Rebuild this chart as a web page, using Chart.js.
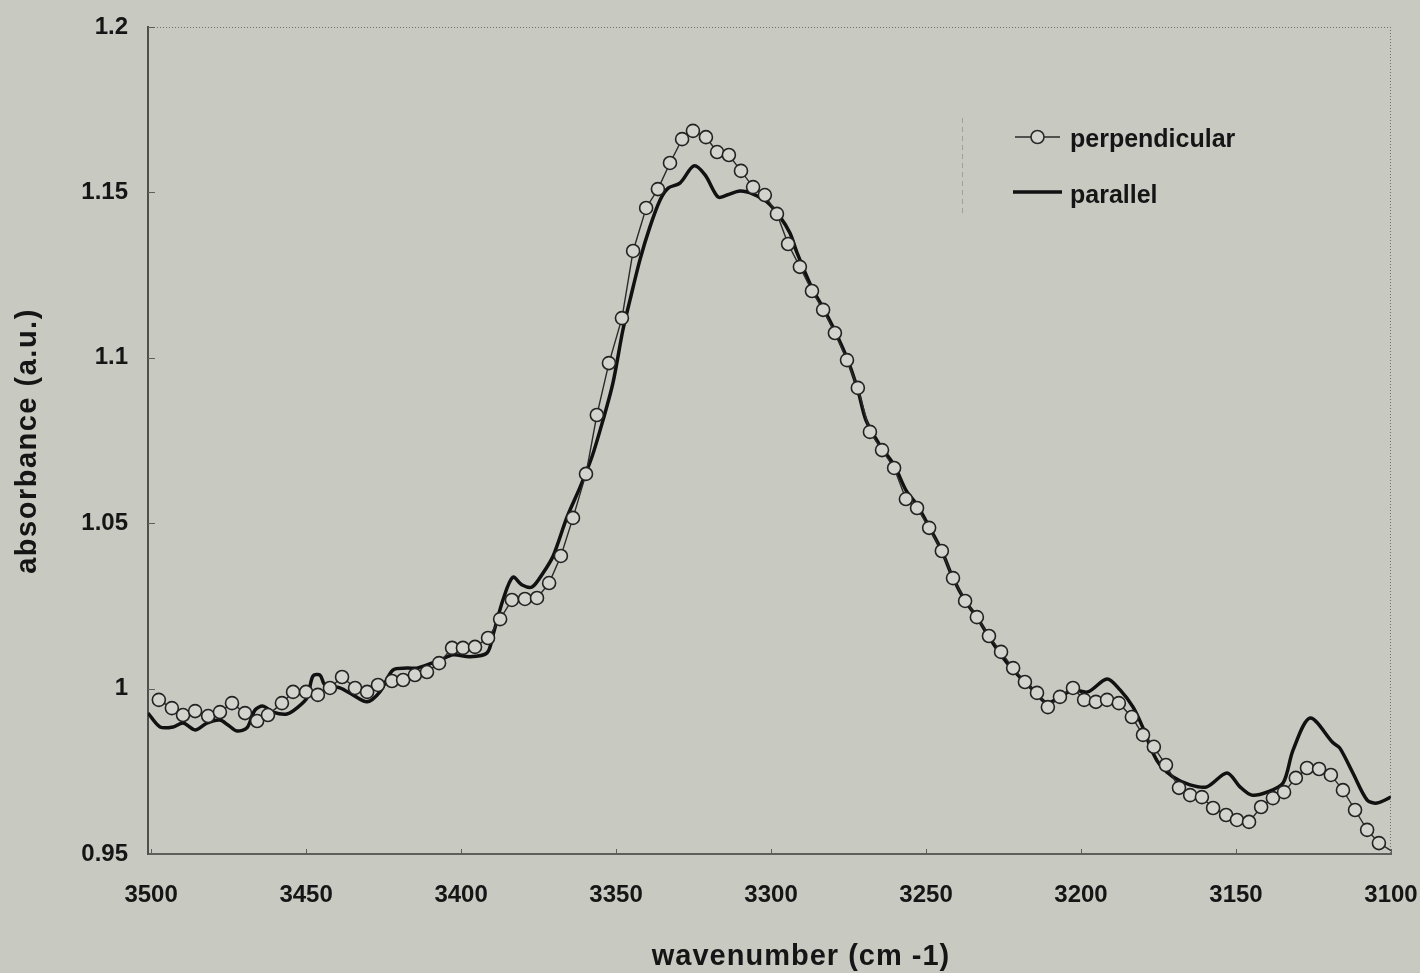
<!DOCTYPE html>
<html>
<head>
<meta charset="utf-8">
<title>absorbance vs wavenumber</title>
<script src="https://cdn.jsdelivr.net/npm/chart.js@4.4.0/dist/chart.umd.min.js"></script>
<style>
  html, body { margin: 0; padding: 0; background: #c8c9c1; }
  canvas { display: block; }
</style>
</head>
<body>
<canvas id="chart-ir" width="1420" height="973"></canvas>
<script>
var xTicks = [3500, 3450, 3400, 3350, 3300, 3250, 3200, 3150, 3100];
var yTicks = [0.95, 1, 1.05, 1.1, 1.15, 1.2];
var yTickLabels = ["0.95", "1", "1.05", "1.1", "1.15", "1.2"];
var seriesNames = ["perpendicular", "parallel"];
var xTitle = "wavenumber (cm -1)";
var yTitle = "absorbance (a.u.)";

// perpendicular (open circles)
var perpWn = [
  3497.5, 3493.3, 3489.7, 3485.8, 3481.6, 3477.8, 3473.9, 3469.7, 3465.8, 3462.3,
  3457.8, 3454.2, 3450.0, 3446.2, 3442.3, 3438.4, 3434.2, 3430.3, 3426.8, 3422.3,
  3418.7, 3414.9, 3411.0, 3407.1, 3402.9, 3399.4, 3395.5, 3391.3, 3387.4, 3383.6,
  3379.4, 3375.5, 3371.6, 3367.8, 3363.9, 3359.7, 3356.2, 3352.3, 3348.1, 3344.5,
  3340.3, 3336.5, 3332.6, 3328.7, 3325.2, 3321.0, 3317.4, 3313.6, 3309.7, 3305.8,
  3302.0, 3298.1, 3294.5, 3290.7, 3286.8, 3283.2, 3279.4, 3275.5, 3272.0, 3268.1,
  3264.2, 3260.3, 3256.5, 3252.9, 3249.0, 3244.9, 3241.3, 3237.4, 3233.6, 3229.7,
  3225.8, 3221.9, 3218.1, 3214.2, 3210.7, 3206.8, 3202.6, 3199.0, 3195.2, 3191.6,
  3187.8, 3183.6, 3180.0, 3176.5, 3172.6, 3168.4, 3164.8, 3161.0, 3157.4, 3153.2,
  3149.7, 3145.8, 3141.9, 3138.1, 3134.5, 3130.7, 3127.1, 3123.2, 3119.4, 3115.5,
  3111.6, 3107.7, 3103.9, 3100.0
];
var perpAbs = [
  0.9966, 0.9941, 0.9920, 0.9932, 0.9917, 0.9929, 0.9956, 0.9926, 0.9902, 0.9920,
  0.9956, 0.9990, 0.9990, 0.9981, 1.0002, 1.0035, 1.0002, 0.9990, 1.0011, 1.0023,
  1.0026, 1.0041, 1.0050, 1.0077, 1.0123, 1.0123, 1.0126, 1.0153, 1.0210, 1.0268,
  1.0271, 1.0274, 1.0319, 1.0401, 1.0516, 1.0649, 1.0827, 1.0984, 1.1120, 1.1323,
  1.1453, 1.1510, 1.1589, 1.1661, 1.1686, 1.1667, 1.1622, 1.1613, 1.1565, 1.1516,
  1.1492, 1.1435, 1.1344, 1.1275, 1.1202, 1.1145, 1.1075, 1.0993, 1.0909, 1.0776,
  1.0721, 1.0667, 1.0573, 1.0546, 1.0486, 1.0416, 1.0334, 1.0265, 1.0216, 1.0159,
  1.0111, 1.0062, 1.0020, 0.9987, 0.9944, 0.9975, 1.0002, 0.9966, 0.9960, 0.9966,
  0.9956, 0.9914, 0.9860, 0.9824, 0.9769, 0.9700, 0.9678, 0.9672, 0.9639, 0.9618,
  0.9603, 0.9597, 0.9642, 0.9669, 0.9687, 0.9730, 0.9760, 0.9757, 0.9739, 0.9693,
  0.9633, 0.9573, 0.9533, 0.9510
];

// parallel (solid line)
var parWn = [
  3501.0, 3497.1, 3492.9, 3489.7, 3485.8, 3482.0, 3477.8, 3475.2, 3472.3, 3469.1,
  3466.5, 3463.9, 3460.7, 3456.2, 3452.6, 3449.7, 3447.8, 3445.5, 3443.9, 3439.1,
  3434.9, 3430.3, 3426.2, 3422.0, 3417.4, 3414.2, 3406.8, 3402.6, 3397.1, 3391.6,
  3389.7, 3386.5, 3383.3, 3380.3, 3377.1, 3373.6, 3370.3, 3365.8, 3361.6, 3357.8,
  3354.2, 3351.0, 3347.8, 3345.5, 3342.3, 3339.1, 3335.8, 3333.2, 3329.4, 3324.9,
  3321.3, 3317.1, 3314.2, 3310.0, 3305.8, 3301.3, 3297.1, 3293.9, 3291.6, 3286.8,
  3283.2, 3279.4, 3275.5, 3272.0, 3269.4, 3264.9, 3260.3, 3256.5, 3252.9, 3249.0,
  3244.9, 3241.3, 3237.4, 3233.6, 3229.7, 3225.8, 3221.9, 3215.5, 3211.0, 3206.8,
  3202.6, 3197.8, 3191.6, 3187.4, 3183.2, 3180.0, 3176.8, 3174.5, 3170.3, 3164.8,
  3159.4, 3152.9, 3148.7, 3144.9, 3140.0, 3134.8, 3131.6, 3126.1, 3118.7, 3116.5,
  3112.3, 3107.7, 3104.5, 3100.0
];
var parAbs = [
  0.9926, 0.9884, 0.9884, 0.9896, 0.9875, 0.9896, 0.9905, 0.9890, 0.9872, 0.9881,
  0.9935, 0.9947, 0.9929, 0.9923, 0.9944, 0.9972, 1.0038, 1.0041, 1.0011, 1.0002,
  0.9981, 0.9960, 0.9990, 1.0056, 1.0062, 1.0062, 1.0086, 1.0102, 1.0096, 1.0108,
  1.0162, 1.0268, 1.0337, 1.0313, 1.0307, 1.0349, 1.0401, 1.0519, 1.0609, 1.0700,
  1.0812, 1.0924, 1.1084, 1.1175, 1.1296, 1.1395, 1.1477, 1.1513, 1.1528, 1.1580,
  1.1553, 1.1486, 1.1492, 1.1504, 1.1495, 1.1471, 1.1426, 1.1377, 1.1317, 1.1211,
  1.1151, 1.1081, 1.0999, 1.0903, 1.0812, 1.0736, 1.0676, 1.0600, 1.0555, 1.0489,
  1.0416, 1.0334, 1.0265, 1.0216, 1.0156, 1.0102, 1.0056, 0.9996, 0.9956, 0.9975,
  0.9996, 0.9990, 1.0029, 0.9996, 0.9944, 0.9881, 0.9805, 0.9769, 0.9733, 0.9709,
  0.9703, 0.9745, 0.9703, 0.9678, 0.9687, 0.9715, 0.9814, 0.9911, 0.9836, 0.9820,
  0.9745, 0.9663, 0.9654, 0.9672
];

var FONT = '"Liberation Sans", Arial, Helvetica, sans-serif';
var INK = "#151515";

function toPoints(xs, ys) {
  var pts = [];
  for (let i = 0; i < xs.length; i++) {
    pts.push({ x: xs[i], y: ys[i] });
  }
  return pts;
}

// keep the plot box where the picture has it: no extra label padding
function fixBox(width, height) {
  return function (s) {
    if (width) s.width = width;
    if (height) s.height = height;
    s.paddingLeft = 0;
    s.paddingRight = 0;
    s.paddingTop = 0;
    s.paddingBottom = 0;
  };
}

// background, dotted frame, inner tick marks, axis titles and legend
var irDecor = {
  id: "irDecor",
  beforeDraw: function (chart) {
    var ctx = chart.ctx;
    ctx.save();
    ctx.fillStyle = "#c8c9c1";
    ctx.fillRect(0, 0, chart.width, chart.height);
    ctx.restore();
  },
  afterDraw: function (chart) {
    var ctx = chart.ctx;
    var a = chart.chartArea;
    var xs = chart.scales.x;
    var ys = chart.scales.y;
    ctx.save();

    // dotted top and right frame
    ctx.strokeStyle = "#6f706b";
    ctx.lineWidth = 1;
    ctx.setLineDash([1, 2]);
    ctx.beginPath();
    ctx.moveTo(a.left, a.top + 0.5);
    ctx.lineTo(a.right, a.top + 0.5);
    ctx.moveTo(a.right - 0.5, a.top);
    ctx.lineTo(a.right - 0.5, a.bottom);
    ctx.stroke();

    // faint dashed remnant left of the legend
    ctx.strokeStyle = "rgba(110,110,110,0.45)";
    ctx.setLineDash([5, 4]);
    ctx.beginPath();
    ctx.moveTo(962.5, 118);
    ctx.lineTo(962.5, 214);
    ctx.stroke();
    ctx.setLineDash([]);

    // inner tick marks
    ctx.strokeStyle = "#5e5f5a";
    ctx.beginPath();
    yTicks.forEach(function (v) {
      var py = Math.round(ys.getPixelForValue(v)) + 0.5;
      ctx.moveTo(a.left, py);
      ctx.lineTo(a.left + 7, py);
    });
    xTicks.forEach(function (v) {
      var px = Math.round(xs.getPixelForValue(v)) + 0.5;
      ctx.moveTo(px, a.bottom);
      ctx.lineTo(px, a.bottom - 5);
    });
    ctx.stroke();

    // axis titles
    ctx.fillStyle = INK;
    ctx.textAlign = "center";
    ctx.textBaseline = "middle";
    ctx.font = "bold 29px " + FONT;
    ctx.letterSpacing = "1px";
    ctx.fillText(xTitle, 801, 957);
    ctx.save();
    ctx.translate(28, 441);
    ctx.rotate(-Math.PI / 2);
    ctx.letterSpacing = "1.5px";
    ctx.fillText(yTitle, 0, 0);
    ctx.restore();
    ctx.letterSpacing = "0px";

    // legend
    ctx.strokeStyle = "#2a2a2a";
    ctx.lineWidth = 1.4;
    ctx.beginPath();
    ctx.moveTo(1015, 137);
    ctx.lineTo(1060, 137);
    ctx.stroke();
    ctx.fillStyle = "#d3d4cd";
    ctx.lineWidth = 1.6;
    ctx.beginPath();
    ctx.arc(1037.5, 137, 6.5, 0, Math.PI * 2);
    ctx.fill();
    ctx.stroke();

    ctx.strokeStyle = "#111";
    ctx.lineWidth = 3.5;
    ctx.beginPath();
    ctx.moveTo(1013, 192);
    ctx.lineTo(1062, 192);
    ctx.stroke();

    ctx.fillStyle = INK;
    ctx.textAlign = "left";
    ctx.font = "bold 25px " + FONT;
    ctx.fillText(seriesNames[0], 1070, 140);
    ctx.fillText(seriesNames[1], 1070, 196);
    ctx.restore();
  },
};

var ctx = document.getElementById("chart-ir").getContext("2d");

new Chart(ctx, {
  type: "line",
  data: {
    datasets: [
      {
        label: seriesNames[0],
        data: toPoints(perpWn, perpAbs),
        order: 0,
        borderColor: "#2a2a2a",
        borderWidth: 1.4,
        tension: 0,
        pointRadius: function (c) {
          return c.dataIndex === perpWn.length - 1 ? 0 : 6.5;
        },
        pointBorderWidth: 1.6,
        pointBorderColor: "#222",
        pointBackgroundColor: "#d3d4cd",
        fill: false,
      },
      {
        label: seriesNames[1],
        data: toPoints(parWn, parAbs),
        order: 1,
        borderColor: "#111",
        borderWidth: 3.5,
        tension: 0.3,
        pointRadius: 0,
        fill: false,
      },
    ],
  },
  options: {
    responsive: false,
    animation: false,
    layout: {
      padding: { left: 0, right: 29, top: 27, bottom: 0 },
    },
    plugins: {
      legend: { display: false },
      tooltip: { enabled: false },
    },
    scales: {
      x: {
        type: "linear",
        reverse: true,
        min: 3100,
        max: 3501,
        afterFit: fixBox(0, 119),
        afterBuildTicks: function (s) {
          s.ticks = xTicks.map(function (v) {
            return { value: v };
          });
        },
        grid: { display: false, drawTicks: false },
        border: { display: true, color: "#5e5f5a", width: 2 },
        ticks: {
          color: INK,
          padding: 27,
          maxRotation: 0,
          autoSkip: false,
          font: { family: FONT, size: 24, weight: "bold" },
          callback: function (v) {
            return String(v);
          },
        },
      },
      y: {
        type: "linear",
        min: 0.95,
        max: 1.2,
        afterFit: fixBox(148, 0),
        afterBuildTicks: function (s) {
          s.ticks = yTicks.map(function (v) {
            return { value: v };
          });
        },
        grid: { display: false, drawTicks: false },
        border: { display: true, color: "#4f504c", width: 2 },
        ticks: {
          color: INK,
          padding: 20,
          autoSkip: false,
          font: { family: FONT, size: 24, weight: "bold" },
          callback: function (v, i) {
            return yTickLabels[i];
          },
        },
      },
    },
  },
  plugins: [irDecor],
});
</script>
</body>
</html>
